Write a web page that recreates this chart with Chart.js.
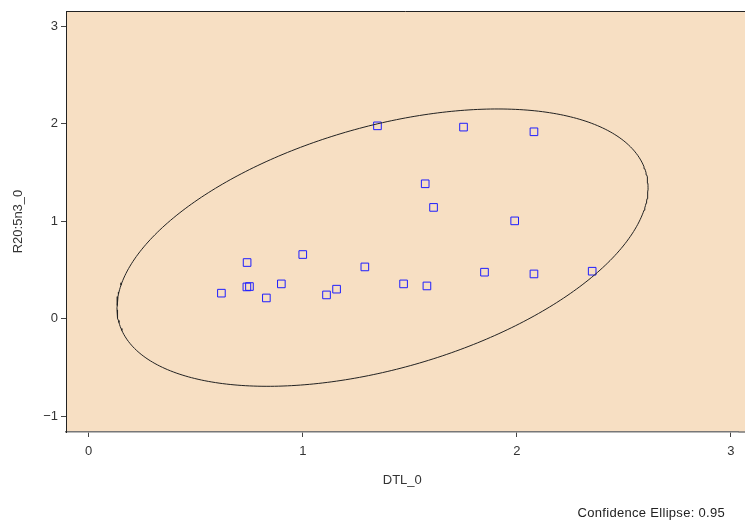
<!DOCTYPE html>
<html><head><meta charset="utf-8">
<script src="https://cdn.jsdelivr.net/npm/chart.js@4/dist/chart.umd.min.js"></script>
<style>html,body{margin:0;padding:0;background:#fff}#wrap{width:745px;height:520px}</style>
</head><body><div id="wrap"><canvas id="c" width="745" height="520"></canvas></div>
<script>
// ---- data ----
const dtl = [0.620, 0.740, 0.739, 0.751, 0.830, 0.900, 1.000, 1.111, 1.158, 1.290, 1.471, 1.580,
             1.349, 1.751, 2.080, 1.572, 1.611, 1.990, 1.849, 2.080, 2.352];
const r20 = [0.262, 0.576, 0.326, 0.330, 0.213, 0.357, 0.658, 0.244, 0.303, 0.531, 0.357, 0.336,
             1.977, 1.964, 1.916, 1.383, 1.141, 1.003, 0.477, 0.459, 0.487];
const xTicks = [0, 1, 2, 3];
const yTicks = [-1, 0, 1, 2, 3];
const xTitle = 'DTL_0';
const yTitle = 'R20:5n3_0';
const ellipseLevel = 0.95;
const chiSq2df = 5.991; // chi-square quantile, 2 df, for ellipseLevel
const footnote = 'Confidence Ellipse: ' + ellipseLevel;

// ellipse computed from the data (mean and covariance)
function ellipsePoints(xs, ys, q, nPts) {
  const n = xs.length;
  const mx = xs.reduce((a, b) => a + b, 0) / n;
  const my = ys.reduce((a, b) => a + b, 0) / n;
  let sxx = 0, syy = 0, sxy = 0;
  for (let i = 0; i < n; i++) {
    const dx = xs[i] - mx, dy = ys[i] - my;
    sxx += dx * dx; syy += dy * dy; sxy += dx * dy;
  }
  sxx /= n; syy /= n; sxy /= n;
  const l11 = Math.sqrt(sxx), l21 = sxy / l11, l22 = Math.sqrt(syy - l21 * l21);
  const r = Math.sqrt(q);
  const pts = [];
  for (let i = 0; i <= nPts; i++) {
    const t = 2 * Math.PI * i / nPts;
    const u = Math.cos(t), v = Math.sin(t);
    pts.push({x: mx + r * l11 * u, y: my + r * (l21 * u + l22 * v)});
  }
  return pts;
}

const FONT = '"Liberation Sans", Arial, Helvetica, sans-serif';
const fmt = v => (v < 0 ? '\u2212' + Math.abs(v) : String(v));

const bgPlugin = {
  id: 'bg',
  beforeDraw(chart) {
    const {ctx, chartArea: a} = chart;
    ctx.save();
    ctx.fillStyle = '#F7DFC3';
    ctx.fillRect(a.left, a.top, chart.width - a.left, a.bottom - a.top);
    ctx.strokeStyle = '#777';
    ctx.lineWidth = 1.5;
    ctx.beginPath();
    ctx.moveTo(a.right, a.bottom);
    ctx.lineTo(chart.width, a.bottom);
    ctx.stroke();
    ctx.restore();
  },
  afterDraw(chart) {
    const {ctx, chartArea: a} = chart;
    ctx.save();
    ctx.strokeStyle = '#222';
    ctx.lineWidth = 1;
    ctx.beginPath();
    ctx.moveTo(a.left, a.top + 0.5);
    ctx.lineTo(chart.width, a.top + 0.5);
    ctx.stroke();
    ctx.fillStyle = '#222';
    ctx.font = '13px ' + FONT;
    try { ctx.letterSpacing = '0.3px'; } catch (e) {}
    ctx.textAlign = 'right';
    ctx.textBaseline = 'middle';
    ctx.fillText(footnote, chart.width - 20, chart.height - 7);
    ctx.restore();
  }
};

new Chart(document.getElementById('c'), {
  data: {
    datasets: [
      {
        type: 'scatter',
        data: ellipsePoints(dtl, r20, chiSq2df, 360),
        showLine: true,
        borderColor: '#222',
        borderWidth: 1,
        pointRadius: 0,
        fill: false,
        tension: 0
      },
      {
        type: 'scatter',
        data: dtl.map((x, i) => ({x, y: r20[i]})),
        pointStyle: 'rect',
        pointRadius: 5.4,
        pointBorderWidth: 1,
        borderColor: 'rgb(30,30,255)',
        backgroundColor: 'rgba(0,0,0,0)',
        pointBackgroundColor: 'rgba(0,0,0,0)'
      }
    ]
  },
  options: {
    responsive: false,
    animation: false,
    devicePixelRatio: 1,
    layout: {padding: {top: 11, left: 0, right: 0, bottom: 0}},
    plugins: {legend: {display: false}, tooltip: {enabled: false}},
    scales: {
      x: {
        type: 'linear', min: -0.106, max: 3.036,
        afterBuildTicks: s => { s.ticks = xTicks.map(v => ({value: v})); },
        afterFit: s => { s.height = 88; },
        grid: {drawOnChartArea: false, drawTicks: true, tickLength: 5, color: '#444'},
        border: {display: true, color: '#777', width: 1.5},
        ticks: {font: {family: FONT, size: 13}, color: '#333', padding: 7, callback: v => fmt(v), maxRotation: 0},
        title: {display: true, text: xTitle, font: {family: FONT, size: 13}, color: '#333', padding: {top: 0, bottom: 32}}
      },
      y: {
        type: 'linear', min: -1.161, max: 3.154,
        afterBuildTicks: s => { s.ticks = yTicks.map(v => ({value: v})); },
        afterFit: s => { s.width = 66; },
        grid: {drawOnChartArea: false, drawTicks: true, tickLength: 5, color: '#444'},
        border: {display: true, color: '#222', width: 1},
        ticks: {font: {family: FONT, size: 13}, color: '#333', padding: 3, callback: v => fmt(v)},
        title: {display: true, text: yTitle, font: {family: FONT, size: 13}, color: '#333', padding: {top: 11, bottom: 0}}
      }
    }
  },
  plugins: [bgPlugin]
});
</script>
</body></html>
